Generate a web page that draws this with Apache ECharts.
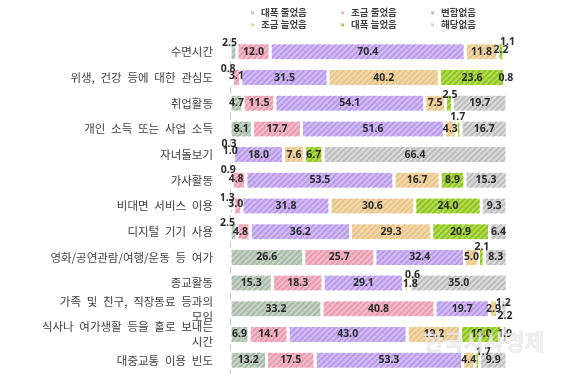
<!DOCTYPE html>
<html><head><meta charset="utf-8">
<script src="https://cdn.jsdelivr.net/npm/echarts@6/dist/echarts.min.js"></script>
<style>html,body{margin:0;padding:0;background:#fff}#c{width:570px;height:379px}</style>
</head><body><div id="c"></div>
<script>
const categories = ['수면시간','위생, 건강 등에 대한 관심도','취업활동','개인 소득 또는 사업 소득','자녀돌보기','가사활동','비대면 서비스 이용','디지털 기기 사용','영화/공연관람/여행/운동 등 여가','종교활동','가족 및 친구, 직장동료 등과의\n모임','식사나 여가생활 등을 홀로 보내는\n시간','대중교통 이용 빈도'];
const seriesNames = ['대폭 줄었음','조금 줄었음','변함없음','조금 늘었음','대폭 늘었음','해당없음'];
const greatlyDecreased  = [2.5, 0.8, 4.7, 8.1, 0.3, 0.9, 1.3, 2.5, 26.6, 15.3, 33.2, 6.9, 13.2];
const slightlyDecreased = [12.0, 3.1, 11.5, 17.7, 1.0, 4.8, 3.0, 4.8, 25.7, 18.3, 40.8, 14.1, 17.5];
const unchanged         = [70.4, 31.5, 54.1, 51.6, 18.0, 53.5, 31.8, 36.2, 32.4, 29.1, 19.7, 43.0, 53.3];
const slightlyIncreased = [11.8, 40.2, 7.5, 4.3, 7.6, 16.7, 30.6, 29.3, 5.0, 1.8, 2.9, 19.2, 4.4];
const greatlyIncreased  = [2.2, 23.6, 2.5, 1.7, 6.7, 8.9, 24.0, 20.9, 2.1, 0.6, 1.2, 15.0, 1.7];
const notApplicable     = [1.1, 0.8, 19.7, 16.7, 66.4, 15.3, 9.3, 6.4, 8.3, 35.0, 2.2, 1.9, 9.9];
const seriesValues = [greatlyDecreased, slightlyDecreased, unchanged, slightlyIncreased, greatlyIncreased, notApplicable];

// styling (not data)
const fills   = ['#c8d5c8','#f5bccb','#d3bff4','#f4d9ab','#b4de55','#dcdcdc'];
const stripes = ['#a7b9a7','#e99ab1','#b898ea','#e7c48a','#8ec21f','#bcbcbc'];
const legendPos = [[249,8],[339,8],[429,8],[249,20],[339,20],[429,20]];
const labelOffsets = {
  '0-0':[-4,-9], '0-4':[0,-2], '0-5':[2,-10],
  '1-0':[-3,-9], '1-1':[0,-2],
  '2-4':[1,-8],
  '3-4':[-1,-12],
  '4-0':[-1.5,-11], '4-1':[-2,-4],
  '5-0':[-3,-10], '5-1':[-3,-1],
  '6-0':[-4.5,-8], '6-1':[-2,-2],
  '7-0':[-6,-9], '7-1':[-3,0],
  '8-4':[0.5,-10],
  '9-3':[4,1], '9-4':[3,-8],
  '10-4':[4,-6], '10-5':[1,7.5],
  '12-4':[6,-8]
};

const series = seriesNames.map((name, si) => ({
  name, type: 'bar', stack: 'total', barWidth: '70%',
  itemStyle: {
    color: fills[si], borderColor: '#fff', borderWidth: 1.5,
    decal: { symbol: 'rect', symbolSize: 1, dashArrayX: [1, 0], dashArrayY: [1.2, 2], rotation: -Math.PI / 4, color: stripes[si] }
  },
  label: {
    show: true, position: 'inside', color: '#2b2b2b', fontSize: 10.5, fontWeight: 'bold',
    fontFamily: 'Noto Sans', formatter: p => Number(p.value).toFixed(1)
  },
  emphasis: { disabled: true },
  data: seriesValues[si].map((v, ri) => {
    const off = labelOffsets[ri + '-' + si];
    return off ? { value: v, label: { offset: off } } : v;
  })
}));

const legends = seriesNames.map((name, si) => ({
  data: [name], left: legendPos[si][0], top: legendPos[si][1],
  icon: 'rect', itemWidth: 5, itemHeight: 5, itemGap: 0, padding: 0,
  selectedMode: false,
  textStyle: { fontSize: 9.5, fontWeight: 'bold', color: '#404040', fontFamily: 'Noto Sans CJK KR', padding: [0, 0, 0, 1] }
}));

const chart = echarts.init(document.getElementById('c'), null, { renderer: 'canvas' });
chart.setOption({
  animation: false,
  backgroundColor: '#fff',
  legend: legends,
  grid: { left: 230, right: 63, top: 39, bottom: 6, containLabel: false },
  xAxis: { type: 'value', min: 0, max: 100, show: false },
  yAxis: {
    type: 'category', data: categories, inverse: true,
    axisLine: { show: true, lineStyle: { color: '#c8c8c8', width: 1 } },
    axisTick: { show: false },
    axisLabel: {
      margin: 17, fontSize: 11.5, color: '#404040', fontFamily: 'Noto Sans CJK KR', lineHeight: 15,
      formatter: v => v.replace(/ /g, '\u2002')
    }
  },
  series,
  graphic: [{
    type: 'text', left: 423, top: 330, silent: true, z: 100,
    style: { text: '한국시사경제', font: 'bold 22px "Noto Sans CJK KR"', fill: 'rgba(235,235,235,0.8)', stroke: 'rgba(190,190,190,0.5)', lineWidth: 0.5 }
  }]
});
</script></body></html>
